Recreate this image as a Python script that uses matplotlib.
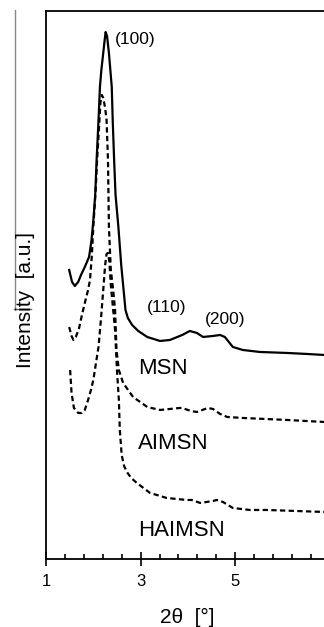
import numpy as np
import matplotlib
matplotlib.use('Agg')
import matplotlib.pyplot as plt
from matplotlib.ticker import FixedLocator
from matplotlib.lines import Line2D

# XRD patterns (2theta in degrees, intensity in arbitrary units, curves already offset)
msn_2theta = [1.49, 1.55, 1.61, 1.68, 1.74, 1.82, 1.91, 1.96, 2.00, 2.04, 2.07, 2.11, 2.14, 2.17,
              2.21, 2.24, 2.26, 2.29, 2.33, 2.39, 2.41, 2.44, 2.47, 2.53, 2.59, 2.66, 2.68,
              2.73, 2.82, 2.95, 3.14, 3.41, 3.62, 3.88, 4.04, 4.19, 4.32, 4.53, 4.68, 4.78,
              4.95, 5.16, 5.52, 6.10, 6.52, 6.88, 7.00]
msn_int = [289, 277, 273, 277, 284, 292, 302, 318, 338, 364, 399, 439, 472, 489,
           506, 519, 527, 523, 506, 472, 439, 399, 364, 332, 294, 259, 249,
           241, 234, 228, 222, 218, 219, 224, 228, 226, 222, 223, 224, 222,
           212, 209, 207, 206, 205, 204, 204]

aimsn_2theta = [1.49, 1.54, 1.58, 1.63, 1.70, 1.76, 1.82, 1.89, 1.93, 1.97, 2.00, 2.05, 2.08,
                2.13, 2.15, 2.18, 2.21, 2.25, 2.28, 2.31, 2.33, 2.37, 2.42, 2.46, 2.49, 2.54,
                2.63, 2.84, 3.14, 3.41, 3.83, 3.88, 4.06, 4.19, 4.42, 4.53, 4.68, 4.83, 5.16,
                6.10, 6.88, 7.00]
aimsn_int = [232, 223, 219, 222, 231, 244, 256, 269, 279, 304, 332, 369, 399,
             439, 456, 464, 461, 451, 439, 399, 332, 289, 269, 249, 209, 189,
             176, 162, 152, 149, 151, 151, 148, 147, 151, 150, 145, 142, 141,
             139, 137, 137]

haimsn_2theta = [1.51, 1.54, 1.59, 1.68, 1.76, 1.82, 1.89, 1.95, 2.00, 2.06, 2.11, 2.16, 2.21,
                 2.25, 2.28, 2.31, 2.34, 2.37, 2.42, 2.46, 2.50, 2.54, 2.56, 2.60, 2.65, 2.71,
                 2.80, 2.92, 3.20, 3.55, 3.97, 4.08, 4.26, 4.53, 4.61, 4.74, 4.95, 5.31, 5.67,
                 6.88, 7.00]
haimsn_int = [189, 166, 151, 146, 146, 149, 159, 169, 179, 197, 212, 239, 269,
              294, 305, 306, 297, 274, 249, 229, 189, 159, 129, 104, 93, 87,
              81, 76, 66, 61, 59, 59, 56, 58, 59, 57, 51, 49, 49,
              47, 47]

sample_names = ['MSN', 'AIMSN', 'HAIMSN']
name_pos = [(2.95, 190), (2.95, 115), (2.95, 28)]
peak_labels = ['(100)', '(110)', '(200)']
peak_pos = [(2.46, 519), (3.13, 251), (4.36, 239)]

plt.rcParams['font.family'] = ['Liberation Sans', 'DejaVu Sans']

fig = plt.figure(figsize=(3.24, 6.27), dpi=100)
# axes runs on to 2theta = 7, which is cut off at the right edge like the original
ax = fig.add_axes([0.142, 0.1085, 0.876, 0.874])

ax.plot(msn_2theta, msn_int, color='black', lw=1.6)
ax.plot(aimsn_2theta, aimsn_int, color='black', lw=1.6, linestyle=(0, (2.4, 1.5)))
ax.plot(haimsn_2theta, haimsn_int, color='black', lw=1.6, linestyle=(0, (2.4, 1.5)))

for name, (x, y) in zip(sample_names, name_pos):
    ax.text(x, y, name, fontsize=16, ha='left', va='center')
for lab, (x, y) in zip(peak_labels, peak_pos):
    ax.text(x, y, lab, fontsize=12.5, ha='left', va='center')

ax.set_xlim(1, 7)
ax.set_ylim(0, 548)
ax.set_yticks([])
ax.set_xticks([1, 3, 5, 7])
ax.set_xticklabels(['1', '3', '5', ''])  # the "7" falls outside the cropped figure
ax.xaxis.set_minor_locator(FixedLocator(np.arange(1, 7.01, 0.4)))
ax.tick_params(axis='x', which='major', direction='inout', length=10, width=1.2,
               labelsize=12, pad=6)
ax.tick_params(axis='x', which='minor', direction='in', length=3.5, width=1.2)
for s in ax.spines.values():
    s.set_linewidth(1.3)

fig.text(0.08, 1 - 299.5 / 627, 'Intensity  [a.u.]', rotation=90, fontsize=15,
         ha='center', va='center')
fig.text(187.5 / 324, 1 - 617 / 627, '2\u03b8  [\u00b0]', fontsize=15,
         ha='center', va='center')

# grey scan border seen at the left of the original figure
fig.add_artist(Line2D([15 / 324, 15 / 324], [1 - 10 / 627, 1 - 309 / 627],
                      color='#888888', lw=1))
fig.add_artist(Line2D([14 / 324, 31 / 324], [1 - 309 / 627, 1 - 309 / 627],
                      color='#666666', lw=1))

fig.savefig('out.png', dpi=100)
